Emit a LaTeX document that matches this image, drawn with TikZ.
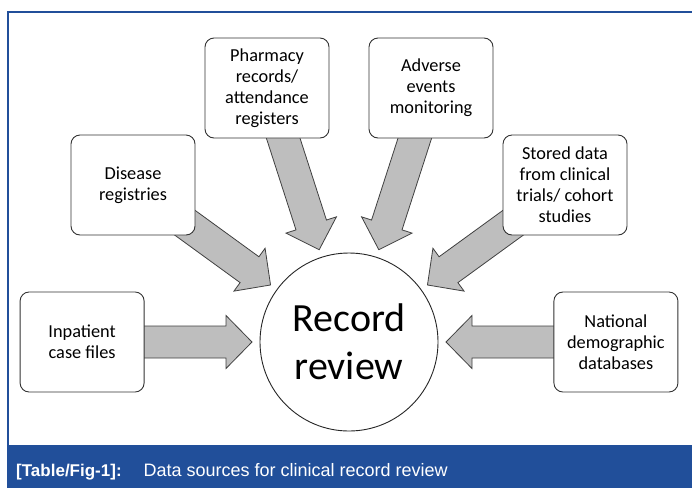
\documentclass[tikz,border=0pt]{standalone}
\usepackage{fontspec}
\setmainfont{Carlito}
\newfontfamily\captionfont{Liberation Sans}
\usepackage{tikz}
\usetikzlibrary{calc, positioning, backgrounds}
\definecolor{bandblue}{RGB}{33,79,154}
\definecolor{arrowgray}{RGB}{190,190,190}
\tikzstyle{source} = [draw=black!80, line width=0.9pt, rounded corners=9pt, fill=white,
minimum width=124pt, minimum height=100pt, align=center, font=\fontsize{18.3}{21}\selectfont]
\tikzstyle{hub} = [draw=black!85, line width=0.9pt, circle, fill=white, minimum size=178pt,
inner sep=0pt, align=center, font=\fontsize{40}{48}\selectfont]
\tikzstyle{feedarrow} = [fill=arrowgray, draw=black!75, line width=0.8pt, line join=miter]
\tikzstyle{frameline} = [draw=bandblue, line width=1.5pt]

% fat arrow from the middle of a box to just short of the hub
\newcommand{\blockarrow}[2]{%
	\coordinate (tip) at ($(#2.center)!97pt!(#1.center)$);
	\coordinate (neck) at ($(tip)!26pt!(#1.center)$);
	\draw [feedarrow] ($(#1.center)!16pt!90:(tip)$) -- ($(neck)!16pt!90:(tip)$)
		-- ($(neck)!26.5pt!90:(tip)$) -- (tip) -- ($(neck)!26.5pt!-90:(tip)$)
		-- ($(neck)!16pt!-90:(tip)$) -- ($(#1.center)!16pt!-90:(tip)$) -- cycle;
}

\begin{document}
\begin{tikzpicture}[x=1pt, y=-1pt]
		\useasboundingbox (0,0) rectangle (692,488);
		\node (review) [hub] at (349,342) {Record\\review};
		\node (inpatient) [source, left = 115pt of review] {Inpatient\\case files};
		\node (national) [source, right = 115pt of review] {National\\demographic\\databases};
		\node (disease) [source] at (133,185) {Disease\\registries};
		\node (pharmacy) [source] at (267,88) {Pharmacy\\records/\\attendance\\registers};
		\node (adverse) [source] at (431,88) {Adverse\\events\\monitoring};
		\node (stored) [source] at (565,185) {Stored data\\from clinical\\trials/ cohort\\studies};
		\begin{pgfonlayer}{background}
			\blockarrow{inpatient}{review}
			\blockarrow{disease}{review}
			\blockarrow{pharmacy}{review}
			\blockarrow{adverse}{review}
			\blockarrow{stored}{review}
			\blockarrow{national}{review}
		\end{pgfonlayer}
		% frame and caption band
		\draw [frameline] (8,445) -- (8,12) -- (692,12);
		\fill [bandblue] (7,445) rectangle (692,488);
		\node (caption) [anchor=base west, text=white, inner sep=0pt, font=\captionfont]
		at (16,476) {\fontsize{17}{20}\selectfont\textbf{[Table/Fig-1]:}\hspace{22pt}%
		\fontsize{18}{20}\selectfont Data sources for clinical record review};
	\end{tikzpicture}
\end{document}
